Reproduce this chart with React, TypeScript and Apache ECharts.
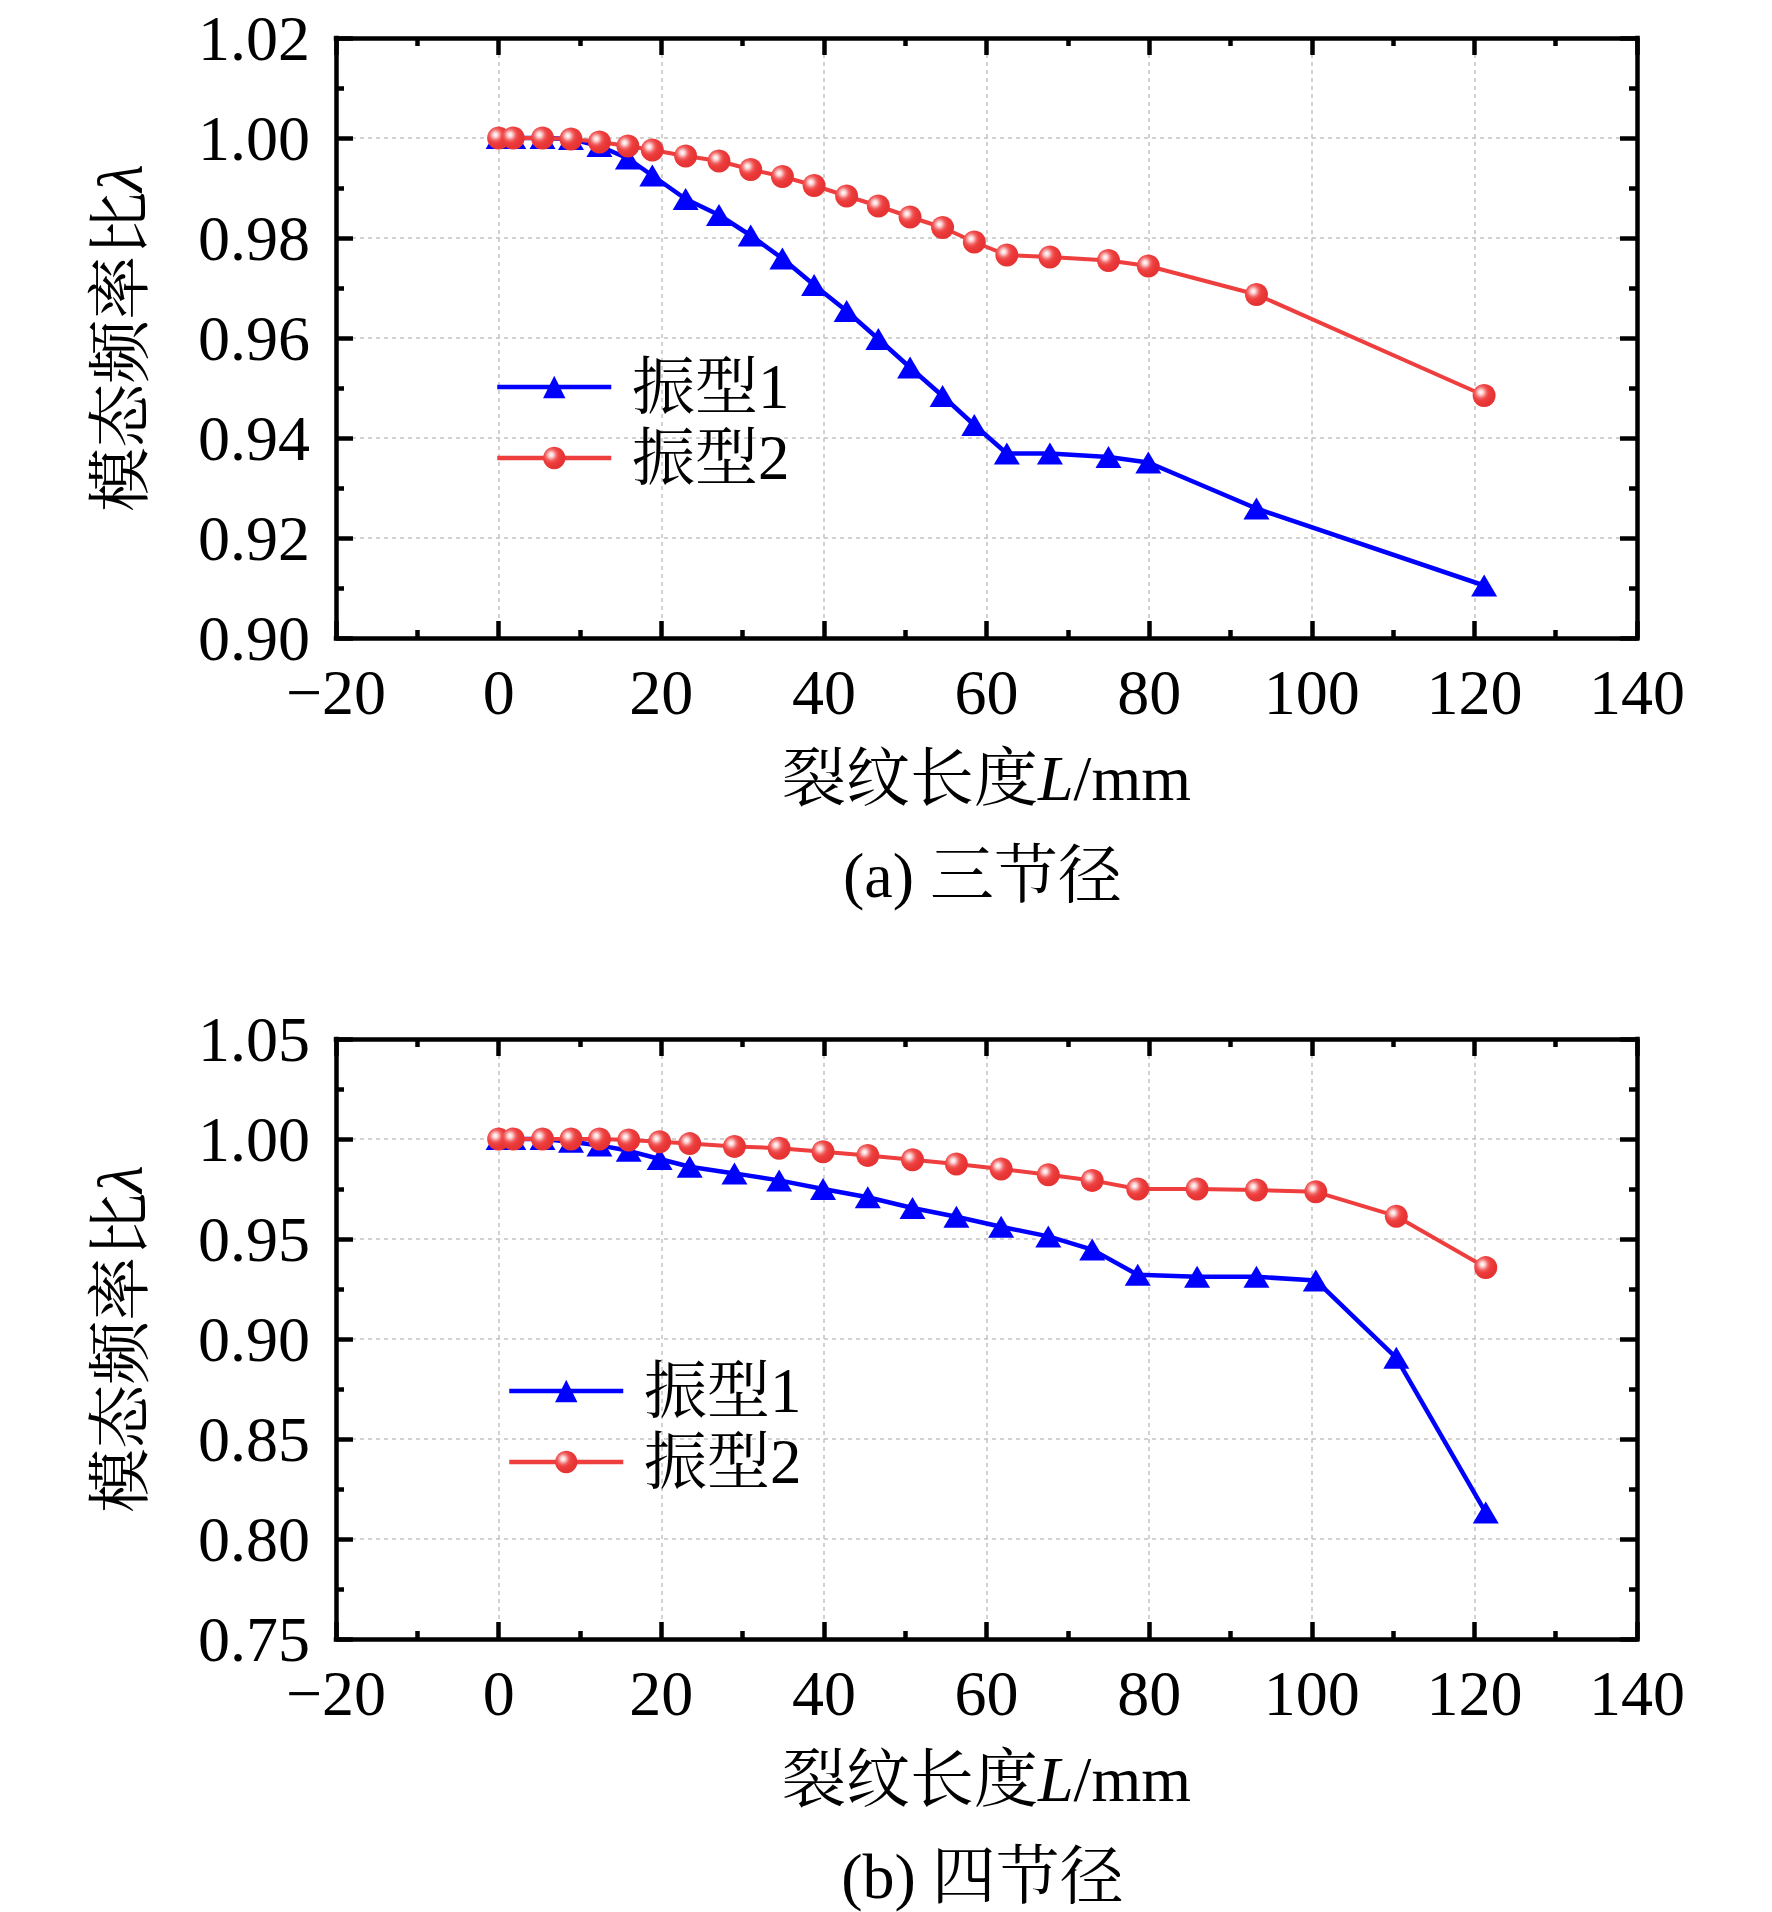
import React, { useEffect, useRef } from "react";
import * as echarts from "echarts";

// ---------- data ----------
const seriesNames = ["振型1", "振型2"];
const captions = ["(a) 三节径", "(b) 四节径"];
const xTitle = ["裂纹长度", "L", "/mm"];
const yTitle = ["模态频率比", "λ"];

// (a) three nodal diameters
const crackA = [0, 1.8, 5.4, 8.9, 12.4, 15.9, 18.9, 23.0, 27.1, 31.0, 34.9, 38.8, 42.8, 46.7, 50.6, 54.6, 58.5, 62.5, 67.8, 75.0, 79.9, 93.2, 121.2];
const mode1A = [1.0, 1.0, 1.0, 0.9998, 0.9984, 0.9959, 0.9925, 0.9878, 0.9846, 0.9805, 0.9759, 0.9706, 0.9654, 0.9598, 0.9541, 0.9484, 0.9426, 0.9369, 0.9369, 0.9362, 0.9351, 0.9259, 0.9105];
const mode2A = [1.0, 1.0, 1.0, 0.9998, 0.9992, 0.9984, 0.9976, 0.9964, 0.9954, 0.9937, 0.9923, 0.9905, 0.9884, 0.9864, 0.9842, 0.9821, 0.9792, 0.9766, 0.9762, 0.9755, 0.9744, 0.9687, 0.9485];

// (b) four nodal diameters
const crackB = [0, 1.8, 5.4, 8.9, 12.4, 16.0, 19.8, 23.5, 29.0, 34.5, 39.9, 45.4, 50.9, 56.3, 61.8, 67.6, 73.0, 78.6, 85.9, 93.2, 100.5, 110.4, 121.4];
const mode1B = [1.0, 1.0, 1.0, 0.9986, 0.9968, 0.9941, 0.99, 0.9861, 0.9828, 0.9793, 0.975, 0.9709, 0.9655, 0.9611, 0.9561, 0.9513, 0.9447, 0.9321, 0.9311, 0.9311, 0.9293, 0.8906, 0.8132];
const mode2B = [1.0, 1.0, 1.0, 1.0, 1.0, 0.9995, 0.9986, 0.9977, 0.9963, 0.9954, 0.9936, 0.9918, 0.9896, 0.9875, 0.985, 0.9821, 0.9793, 0.975, 0.975, 0.9745, 0.9736, 0.9614, 0.9357];

const xRange = { min: -20, max: 140, interval: 20 };
const yRanges = [
  { min: 0.9, max: 1.02, interval: 0.02 },
  { min: 0.75, max: 1.05, interval: 0.05 },
];

// ---------- styling ----------
const SERIF = "'Liberation Serif', 'Times New Roman', 'Noto Serif CJK SC', 'Noto Sans CJK SC', serif";
const BLUE = "#0000ff";
const RED = "#ee3e3e";
const GRID_LEFT = 336;
const GRID_W = 1301;
const GRID_H = 600;
const GRID_TOPS = [38, 1039];
const AXIS_W = 4.5;

const ballFill = new echarts.graphic.RadialGradient(0.36, 0.36, 0.55, [
  { offset: 0, color: "#ffffff" },
  { offset: 0.18, color: "#fcd6d6" },
  { offset: 0.45, color: "#f26464" },
  { offset: 0.65, color: RED },
  { offset: 1, color: "#e63434" },
]);

const minusFmt = (v: number) => (v < 0 ? "\u2212" + Math.abs(v) : String(v));

function makeXAxes(gi: number) {
  const base: any = {
    type: "value",
    gridIndex: gi,
    ...xRange,
    axisLine: { show: true, onZero: false, lineStyle: { color: "#000", width: AXIS_W, cap: "square" } },
    axisTick: { show: true, inside: true, length: 17, lineStyle: { color: "#000", width: AXIS_W } },
    minorTick: { show: true, splitNumber: 2, length: 8, lineStyle: { color: "#000", width: AXIS_W } },
  };
  return [
    {
      ...base,
      position: "bottom",
      axisLabel: { show: true, margin: 22, fontSize: 64, fontFamily: SERIF, color: "#000", formatter: minusFmt },
      splitLine: {
        show: true,
        showMinLine: false,
        showMaxLine: false,
        lineStyle: { color: "#c2c2c2", width: 1.5, type: [4, 4] },
      },
    },
    { ...base, position: "top", axisLabel: { show: false }, splitLine: { show: false } },
  ];
}

function makeYAxes(gi: number) {
  const base: any = {
    type: "value",
    gridIndex: gi,
    ...yRanges[gi],
    axisLine: { show: true, onZero: false, lineStyle: { color: "#000", width: AXIS_W, cap: "square" } },
    axisTick: { show: true, inside: true, length: 17, lineStyle: { color: "#000", width: AXIS_W } },
    minorTick: { show: true, splitNumber: 2, length: 8, lineStyle: { color: "#000", width: AXIS_W } },
  };
  return [
    {
      ...base,
      position: "left",
      axisLabel: {
        show: true,
        margin: 26,
        fontSize: 64,
        fontFamily: SERIF,
        color: "#000",
        formatter: (v: number) => v.toFixed(2),
      },
      splitLine: {
        show: true,
        showMinLine: false,
        showMaxLine: false,
        lineStyle: { color: "#c2c2c2", width: 1.5, type: [4, 4] },
      },
    },
    { ...base, position: "right", axisLabel: { show: false }, splitLine: { show: false } },
  ];
}

function lineSeries(name: string, xs: number[], ys: number[], gi: number, kind: "tri" | "ball") {
  const tri = kind === "tri";
  return {
    type: "line",
    name,
    xAxisIndex: gi * 2,
    yAxisIndex: gi * 2,
    data: xs.map((x, i) => [x, ys[i]]),
    symbol: tri ? "triangle" : "circle",
    symbolSize: tri ? [26, 22] : 23,
    showSymbol: true,
    clip: false,
    z: tri ? 2 : 3,
    lineStyle: { color: tri ? BLUE : RED, width: tri ? 4.5 : 4 },
    itemStyle: { color: tri ? BLUE : ballFill, borderWidth: 0 },
    emphasis: { disabled: true },
  };
}

const richTitle = {
  c: { fontSize: 64, fontFamily: SERIF, fill: "#000" },
  i: { fontSize: 64, fontFamily: SERIF, fontStyle: "italic", fill: "#000" },
};

function panelGraphics(gi: number) {
  const top = GRID_TOPS[gi];
  const bottom = top + GRID_H;
  const cx = GRID_LEFT + GRID_W / 2;
  return [
    {
      type: "text",
      x: 120,
      y: top + GRID_H / 2,
      rotation: Math.PI / 2,
      style: {
        text: `{c|${yTitle[0]}}{i|${yTitle[1]}}`,
        rich: richTitle,
        align: "center",
        verticalAlign: "middle",
      },
    },
    {
      type: "text",
      x: cx,
      y: bottom + 140,
      style: {
        text: `{c|${xTitle[0]}}{i|${xTitle[1]}}{c|${xTitle[2]}}`,
        rich: richTitle,
        align: "center",
        verticalAlign: "middle",
      },
    },
    {
      type: "text",
      x: cx - 4,
      y: bottom + 237,
      style: {
        text: captions[gi],
        fontSize: 64,
        fontFamily: SERIF,
        fill: "#000",
        align: "center",
        verticalAlign: "middle",
      },
    },
  ];
}

function makeLegend(left: number, top: number) {
  return {
    data: seriesNames,
    orient: "vertical",
    left,
    top,
    padding: 0,
    itemWidth: 114,
    itemHeight: 28,
    itemGap: 7,
    selectedMode: false,
    formatter: (n: string) => " " + n,
    lineStyle: { width: 4.5 },
    textStyle: { fontSize: 63, lineHeight: 64, fontFamily: SERIF, color: "#000" },
  };
}

const option: any = {
  animation: false,
  backgroundColor: "#ffffff",
  grid: GRID_TOPS.map((t) => ({
    left: GRID_LEFT,
    top: t,
    width: GRID_W,
    height: GRID_H,
    show: false,
    containLabel: false,
    outerBoundsMode: "none",
  })),
  xAxis: [...makeXAxes(0), ...makeXAxes(1)],
  yAxis: [...makeYAxes(0), ...makeYAxes(1)],
  legend: [makeLegend(495, 355), makeLegend(507, 1359)],
  series: [
    lineSeries(seriesNames[0], crackA, mode1A, 0, "tri"),
    lineSeries(seriesNames[1], crackA, mode2A, 0, "ball"),
    lineSeries(seriesNames[0], crackB, mode1B, 1, "tri"),
    lineSeries(seriesNames[1], crackB, mode2B, 1, "ball"),
  ],
  graphic: [...panelGraphics(0), ...panelGraphics(1)],
};

export default function App() {
  const ref = useRef<HTMLDivElement>(null);
  useEffect(() => {
    if (!ref.current) return;
    const chart = echarts.init(ref.current, null, { renderer: "svg" });
    chart.setOption(option);
    return () => chart.dispose();
  }, []);
  return (
    <div
      ref={ref}
      style={{ position: "absolute", left: 0, top: 0, width: 1772, height: 1912, background: "#fff" }}
    />
  );
}
